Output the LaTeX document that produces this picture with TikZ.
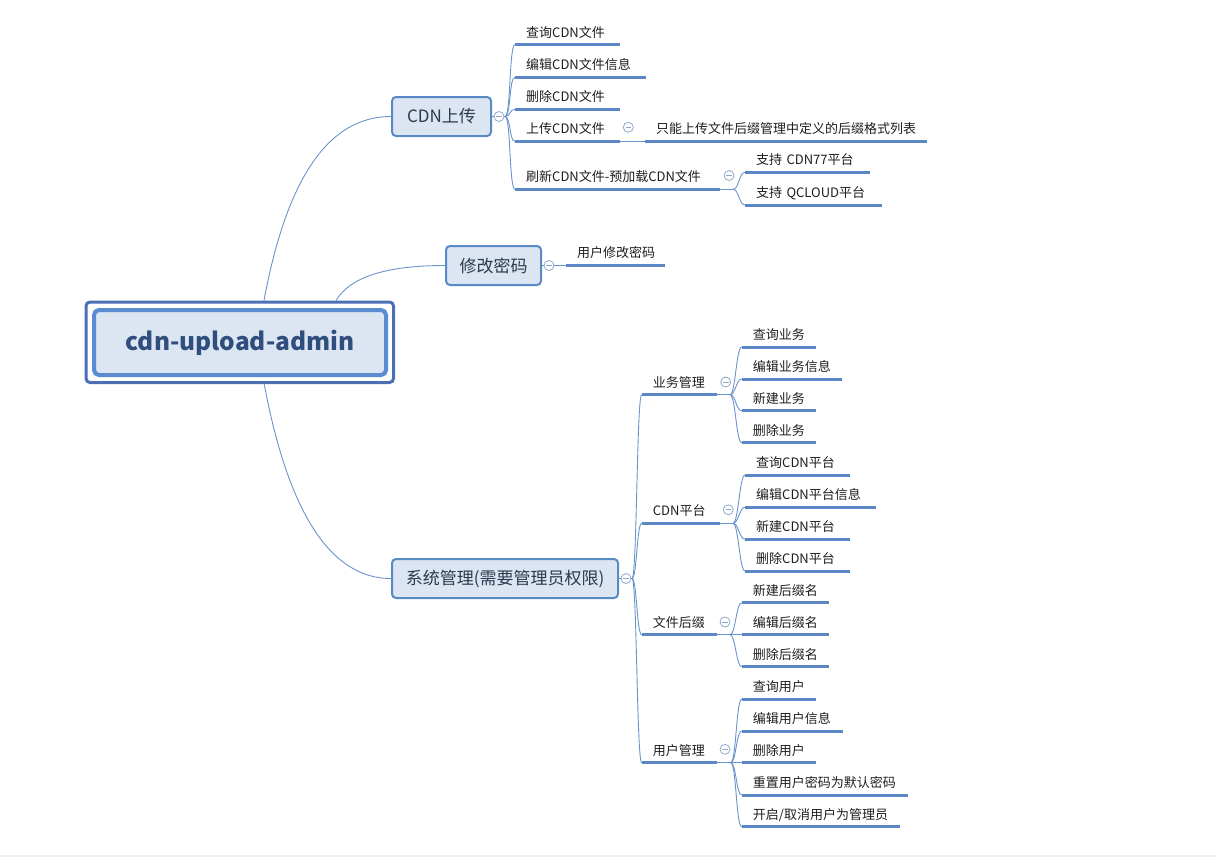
\documentclass[tikz,border=0pt]{standalone}
\usepackage{fontspec}
\setmainfont{Noto Sans CJK SC}
\definecolor{lineblue}{HTML}{6A93CC}
\definecolor{ulblue}{HTML}{5B87C6}
\definecolor{boxfill}{HTML}{DCE6F2}
\definecolor{boxborder}{HTML}{5A8AC6}
\definecolor{boxtext}{HTML}{2A3A50}
\definecolor{leaftext}{HTML}{1E1E1E}
\definecolor{togcol}{HTML}{8FA8CB}
\definecolor{rootinner}{HTML}{5B8BD0}
\definecolor{rootouterc}{HTML}{4A6FB5}
\definecolor{roottext}{HTML}{2F4E7E}
\definecolor{bottomgray}{HTML}{F0F0F0}
\tikzset{
  conn/.style={draw=lineblue, line width=0.9pt},
  ulstyle/.style={draw=ulblue, line width=3pt},
  leaf/.style={anchor=south west, inner xsep=11pt, inner ysep=7.5pt, text width=#1, align=left,
    text height=9.5pt, text depth=0pt, font=\fontsize{13}{15}\selectfont, text=leaftext},
  box/.style={draw=boxborder, line width=2pt, fill=boxfill, rounded corners=4pt, minimum height=39pt,
    inner sep=0pt, font=\fontsize{17}{20}\selectfont, text=boxtext},
  rootbox/.style={draw=rootinner, line width=4pt, fill=boxfill, rounded corners=5pt, minimum width=292pt,
    minimum height=65pt, inner sep=0pt, font=\fontsize{24.5}{30}\selectfont\bfseries, text=roottext},
  rootouter/.style={draw=rootouterc, line width=3pt, rounded corners=4pt},
  tog/.style={circle, draw=togcol, line width=0.8pt, fill=white, minimum size=10pt, inner sep=0pt,
    path picture={\draw[togcol, line width=0.8pt] ([xshift=-2.8pt]path picture bounding box.center) -- ([xshift=2.8pt]path picture bounding box.center);}},
}
\newcommand{\leafnode}[5]{%
  \pgfmathsetmacro{\leaftw}{#4-22}%
  \node[leaf=\leaftw pt] (#1) at (#2,#3) {\mbox{#5}};%
  \draw[ulstyle] (#1.south west) -- (#1.south east);%
}
\begin{document}
\begin{tikzpicture}[x=1pt,y=-1pt]
\useasboundingbox (0,0) rectangle (1217,857);
\fill[bottomgray] (0,854.5) rectangle (1217,857);

% root
\node[rootbox] (root) at (240,342.5) {cdn-upload-admin};
\draw[rootouter] ([shift={(-6,-6)}]root.north west) rectangle ([shift={(5.5,5.5)}]root.south east);

% main boxes
\node[box, minimum width=99pt] (cdn) at (441.5,116.5) {CDN上传};
\node[box, minimum width=95pt] (pwd) at (493.5,265.5) {修改密码};
\node[box, minimum width=226pt] (sys) at (505,578.5) {系统管理(需要管理员权限)};

\draw[conn] ([xshift=24pt,yshift=7.5pt]root.north) .. controls +(19,-102) and +(-72,0) .. (cdn.west);
\draw[conn] ([xshift=96pt,yshift=7.5pt]root.north) .. controls +(15,-25) and +(-55,0) .. (pwd.west);
\draw[conn] ([xshift=24pt,yshift=-6pt]root.south) .. controls +(19,102) and +(-72,0) .. (sys.west);

% ---------- CDN上传 ----------
\node[tog] (tcdn) at (499,116.5) {};
\coordinate (fcdn) at (505,116.5);
\draw[conn] (cdn.east) -- (tcdn.west);
\draw[conn] (tcdn.east) -- (fcdn);
\leafnode{a1}{515}{44.7}{105}{查询CDN文件}
\leafnode{a2}{515}{77.3}{130.7}{编辑CDN文件信息}
\leafnode{a3}{515}{109.3}{105}{删除CDN文件}
\leafnode{a4}{515}{141.3}{105}{上传CDN文件}
\leafnode{a5}{515}{189.3}{205}{刷新CDN文件-预加载CDN文件}
\foreach \n in {a1,a2,a3,a4,a5}
  \draw[conn] (fcdn) .. controls +(6,0) and +(-6,0) .. (\n.south west);

\node[tog] (ta4) at (628.3,127.3) {};
\leafnode{a41}{645}{141.3}{282}{只能上传文件后缀管理中定义的后缀格式列表}
\draw[conn] (a4.south east) -- (a41.south west);

\node[tog] (ta5) at (729,175.5) {};
\coordinate (fa5) at (733,189.3);
\draw[conn] (a5.south east) -- (fa5);
\leafnode{a51}{745}{172.3}{125}{支持~CDN77平台}
\leafnode{a52}{745}{205}{136.7}{支持~QCLOUD平台}
\foreach \n in {a51,a52}
  \draw[conn] (fa5) .. controls +(6,0) and +(-6,0) .. (\n.south west);

% ---------- 修改密码 ----------
\node[tog] (tpwd) at (549,265.5) {};
\draw[conn] (pwd.east) -- (tpwd.west);
\leafnode{b1}{566}{265.5}{99}{用户修改密码}
\draw[conn] (tpwd.east) -- (b1.south west);

% ---------- 系统管理 ----------
\node[tog] (tsys) at (626,578.5) {};
\coordinate (fsys) at (632,578.5);
\draw[conn] (sys.east) -- (tsys.west);
\draw[conn] (tsys.east) -- (fsys);
\leafnode{c1}{641.7}{394.7}{75}{业务管理}
\leafnode{c2}{641.7}{523.3}{78.3}{CDN平台}
\leafnode{c3}{641.7}{634.7}{75}{文件后缀}
\leafnode{c4}{641.7}{762.7}{75}{用户管理}
\foreach \n in {c1,c2,c3,c4}
  \draw[conn] (fsys) .. controls +(5,0) and +(-5,0) .. (\n.south west);

% 业务管理
\node[tog] (tc1) at (725.7,382) {};
\coordinate (fc1) at (730,394.7);
\draw[conn] (c1.south east) -- (fc1);
\leafnode{d1}{741.7}{347}{74.3}{查询业务}
\leafnode{d2}{741.7}{379}{100.3}{编辑业务信息}
\leafnode{d3}{741.7}{410.7}{74.3}{新建业务}
\leafnode{d4}{741.7}{442.7}{74.3}{删除业务}
\foreach \n in {d1,d2,d3,d4}
  \draw[conn] (fc1) .. controls +(5.5,0) and +(-5.5,0) .. (\n.south west);

% CDN平台
\node[tog] (tc2) at (728.3,509.8) {};
\coordinate (fc2) at (733,523.3);
\draw[conn] (c2.south east) -- (fc2);
\leafnode{e1}{745}{475}{105}{查询CDN平台}
\leafnode{e2}{745}{507.2}{131}{编辑CDN平台信息}
\leafnode{e3}{745}{539.2}{105}{新建CDN平台}
\leafnode{e4}{745}{571}{105}{删除CDN平台}
\foreach \n in {e1,e2,e3,e4}
  \draw[conn] (fc2) .. controls +(5.5,0) and +(-5.5,0) .. (\n.south west);

% 文件后缀
\node[tog] (tc3) at (725,622) {};
\coordinate (fc3) at (730,634.7);
\draw[conn] (c3.south east) -- (fc3);
\leafnode{g1}{741.7}{602.7}{87.3}{新建后缀名}
\leafnode{g2}{741.7}{634.7}{87.3}{编辑后缀名}
\leafnode{g3}{741.7}{666.7}{87.3}{删除后缀名}
\foreach \n in {g1,g2,g3}
  \draw[conn] (fc3) .. controls +(5.5,0) and +(-5.5,0) .. (\n.south west);

% 用户管理
\node[tog] (tc4) at (725,749.3) {};
\coordinate (fc4) at (730.7,762.7);
\draw[conn] (c4.south east) -- (fc4);
\leafnode{h1}{741.7}{699.3}{74.3}{查询用户}
\leafnode{h2}{741.7}{731}{101}{编辑用户信息}
\leafnode{h3}{741.7}{762.7}{74.3}{删除用户}
\leafnode{h4}{741.7}{795}{165.6}{重置用户密码为默认密码}
\leafnode{h5}{741.7}{826.7}{158.3}{开启/取消用户为管理员}
\foreach \n in {h1,h2,h3,h4,h5}
  \draw[conn] (fc4) .. controls +(5.5,0) and +(-5.5,0) .. (\n.south west);
\end{tikzpicture}
\end{document}
